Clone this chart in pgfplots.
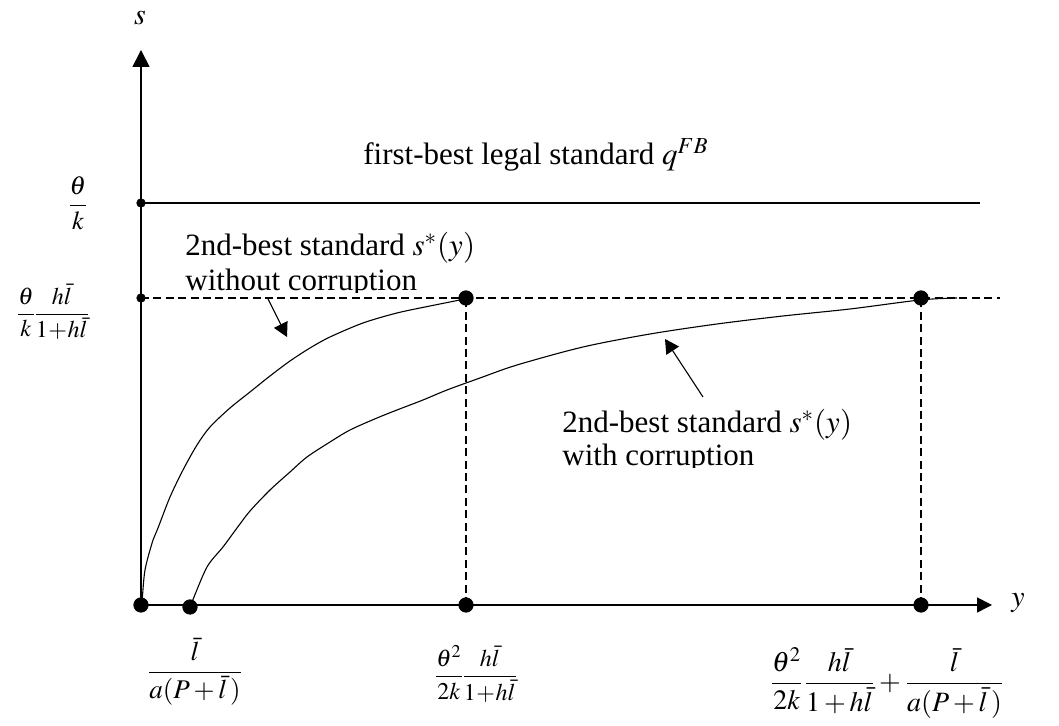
\documentclass[border=0pt]{standalone}
\usepackage{amsmath}
\usepackage{mathptmx}
\usepackage{fontspec}
\setmainfont{Liberation Serif}
\usepackage{pgfplots}
\pgfplotsset{compat=1.18}
\usetikzlibrary{arrows.meta}
\begin{document}
\begin{tikzpicture}
\begin{axis}[
  scale only axis, width=529.5pt, height=363pt,
  xmin=-141, xmax=918, ymin=-121, ymax=605,
  hide axis, clip=false,
]
% bounding box
\path (axis cs:-141,-121) rectangle (axis cs:918,605);
% axes
\addplot[line width=0.8pt, -{Triangle[length=7.5pt,width=7.5pt]}] coordinates {(0,0) (851,0)};
\addplot[line width=0.8pt, -{Triangle[length=8.5pt,width=8.5pt]}] coordinates {(0,0) (0,555)};
% first-best line
\addplot[line width=0.7pt] coordinates {(0,402) (839,402)};
% dashed guide lines
\addplot[line width=0.6pt, dash pattern=on 4pt off 2.2pt] coordinates {(0,307) (859,307)};
\addplot[line width=0.6pt, dash pattern=on 4pt off 2.2pt] coordinates {(325,0) (325,307)};
\addplot[line width=0.6pt, dash pattern=on 4pt off 2.2pt] coordinates {(780,0) (780,307)};
% curve without corruption
\addplot[line width=0.55pt, smooth, tension=0.5] coordinates {
(0,0) (1,3) (4,35) (12,65) (17,77) (29,108) (42,135) (56,160) (69,178)
(89,197) (109,213) (129,229) (149,244) (169,257) (189,268) (222,282)
(256,292) (289,299) (324,306)};
% curve with corruption
\addplot[line width=0.55pt, smooth, tension=0.5] coordinates {
(49,-2) (51,3) (66,38) (82,58) (96,77) (109,94) (129,115) (149,133)
(166,148) (189,163) (209,175) (236,187) (256,195) (282,205) (306,215)
(339,227) (376,240) (442,258) (509,271) (576,281) (642,289) (709,296)
(779,305) (816,307)};
% big dots
\addplot[only marks, mark=*, mark size=3.6pt, black] coordinates {
(0,0) (49,-2) (325,0) (780,0) (325,307) (780,307)};
% small dots
\addplot[only marks, mark=*, mark size=2.1pt, black] coordinates {(0,402) (0,307)};
% annotation arrows
\draw[line width=0.55pt, -{Triangle[length=7pt,width=7.5pt]}] (axis cs:127,306) -- (axis cs:146,268);
\draw[line width=0.55pt, -{Triangle[length=7pt,width=7.5pt]}] (axis cs:562,208) -- (axis cs:524,266);
% axis labels
\node[font=\fontsize{15}{17}\selectfont] at (axis cs:-1,587) {$s$};
\node[font=\fontsize{15}{17}\selectfont] at (axis cs:877,2) {$y$};
% texts
\node[anchor=base west, font=\fontsize{15.5}{17}\selectfont, inner sep=0pt] at (axis cs:222,440) {first-best legal standard $q^{FB}$};
\node[anchor=base west, font=\fontsize{15.5}{17}\selectfont, inner sep=0pt] at (axis cs:44,349) {2nd-best standard $s^{*}(y)$};
\begin{scope}
\clip (axis cs:30,312) rectangle (axis cs:320,345);
\node[anchor=base west, font=\fontsize{15.5}{17}\selectfont, inner sep=0pt] at (axis cs:44,314) {without corruption};
\end{scope}
\node[anchor=base west, font=\fontsize{15.5}{17}\selectfont, inner sep=0pt] at (axis cs:421,172) {2nd-best standard $s^{*}(y)$};
\begin{scope}
\clip (axis cs:410,137) rectangle (axis cs:700,170);
\node[anchor=base west, font=\fontsize{15.5}{17}\selectfont, inner sep=0pt] at (axis cs:421,139) {with corruption};
\end{scope}
% tick-like math labels
\node[font=\fontsize{13}{15}\selectfont] at (axis cs:-63,402) {$\dfrac{\theta}{k}$};
\node[font=\fontsize{12}{14}\selectfont] at (axis cs:-88,293) {$\dfrac{\theta}{k}\!\dfrac{h\bar{l}}{1\!+\!h\bar{l}}$};
\node[font=\fontsize{13.5}{15}\selectfont] at (axis cs:54,-67) {$\dfrac{\bar{l}}{a(P+\bar{l}\,)}$};
\node[font=\fontsize{12}{14}\selectfont] at (axis cs:335,-69) {$\dfrac{\theta^2}{2k}\!\dfrac{h\bar{l}}{1\!+\!h\bar{l}}$};
\node[font=\fontsize{14}{16}\selectfont] at (axis cs:746,-78) {$\dfrac{\theta^2}{2k}\dfrac{h\bar{l}}{1+h\bar{l}}+\dfrac{\bar{l}}{a(P+\bar{l}\,)}$};
\end{axis}
\end{tikzpicture}
\end{document}
